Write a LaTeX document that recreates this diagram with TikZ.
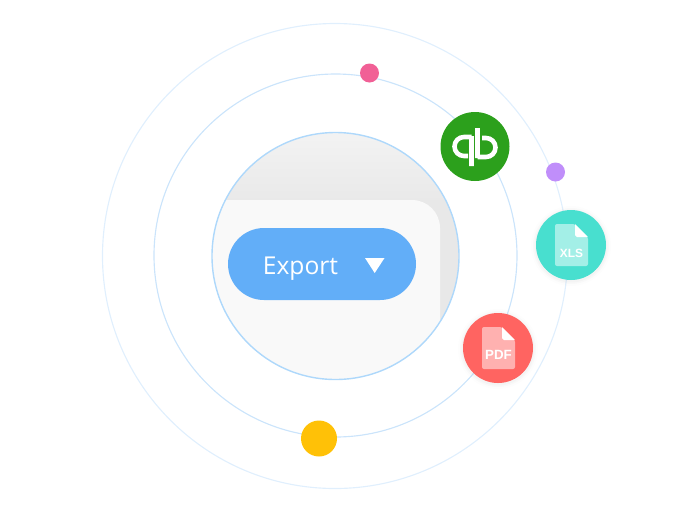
\documentclass[tikz,border=0pt]{standalone}
\usepackage{fontspec}
\setmainfont{Open Sans}
\newfontfamily\labelfont{Liberation Sans}
\definecolor{orbitout}{HTML}{E0EFFD}
\definecolor{orbitmid}{HTML}{CBE4FB}
\definecolor{lensline}{HTML}{AED8FB}
\definecolor{lenstop}{HTML}{F3F3F3}
\definecolor{lensbot}{HTML}{E7E7E7}
\definecolor{panelside}{HTML}{E8E8E8}
\definecolor{panelface}{HTML}{F9F9F9}
\definecolor{buttonblue}{HTML}{62AEF8}
\definecolor{dotpink}{HTML}{F16096}
\definecolor{dotpurple}{HTML}{C08EFA}
\definecolor{dotyellow}{HTML}{FFC107}
\definecolor{qbgreen}{HTML}{2CA01C}
\definecolor{xlsteal}{HTML}{48DFCF}
\definecolor{pdfred}{HTML}{FF6461}
\tikzset{
  ring/.style={draw=#1, line width=0.65pt},
  dot/.style={circle, inner sep=0pt, minimum size=#1*0.02cm},
  filebody/.style={fill=white, fill opacity=0.5},
  filefold/.style={fill=white},
  filetext/.style={text=white, font=\labelfont\bfseries\fontsize{6.8}{7}\selectfont, inner sep=0pt},
  logostroke/.style={draw=white, line width=2.6pt}
}
\begin{document}
\begin{tikzpicture}[x=0.02cm, y=-0.02cm]
  \useasboundingbox (0,0) rectangle (700,512);
  %orbits
  \draw [ring=orbitout] (335,256) circle (232.5);
  \draw [ring=orbitmid] (335.5,255.5) circle (181.5);
  %lens
  \begin{scope}
    \clip (335.5,256) circle (123.5);
    \shade [top color=lenstop, bottom color=lensbot] (205,130) rectangle (465,215);
    \fill [panelside] (400,200) rectangle (465,385);
    \fill [panelface, rounded corners=0.56cm] (190,200) -- (440,200) -- (440,420) -- (190,420) -- cycle;
  \end{scope}
  \draw [ring=lensline, line width=0.8pt] (335.5,256) circle (123.5);
  %button
  \fill [buttonblue, rounded corners=0.72cm] (228,228) rectangle (416,300);
  \node [text=white, inner sep=0pt, anchor=base, font=\fontsize{14}{16}\selectfont] (export) at (300.5,274) {Export};
  \fill [white] (365,258) -- (384.5,258) -- (374.7,273) -- cycle;
  %dots
  \node [dot=19, fill=dotpink] (pinkdot) at (369.5,73) {};
  \node [dot=19, fill=dotpurple] (purpledot) at (555.5,172) {};
  \node [dot=36, fill=dotyellow] (yellowdot) at (319,438.5) {};
  %quickbooks
  \node [dot=69, fill=qbgreen] (qb) at (475,146.5) {};
  \draw [logostroke] (471.5,137) -- (464,137) arc [start angle=90, end angle=270, radius=0.19cm] -- (468,156) (471.5,136) -- (471.5,166);
  \draw [logostroke] (477.5,157) -- (486,157) arc [start angle=-90, end angle=90, radius=0.19cm] -- (482,138) (477.5,128) -- (477.5,158);
  %xls
  \foreach \r/\o in {40/0.008, 38/0.014, 36.5/0.02}
    \fill [black, opacity=\o] (571,246) circle (\r);
  \node [dot=70, fill=xlsteal] (xls) at (571,245) {};
  \fill [filebody, rounded corners=0.04cm] (555,224) -- (575,224) -- (588,237) -- (588,266) -- (555,266) -- cycle;
  \fill [filefold] (575,224) -- (588,237) -- (577,237) -- (575,235) -- cycle;
  \node [filetext] (xlslabel) at (571.5,253) {XLS};
  %pdf
  \foreach \r/\o in {40/0.008, 38/0.014, 36.5/0.02}
    \fill [black, opacity=\o] (498,349) circle (\r);
  \node [dot=70, fill=pdfred] (pdf) at (498,348) {};
  \fill [filebody, rounded corners=0.04cm] (482,327) -- (502,327) -- (515,340) -- (515,369) -- (482,369) -- cycle;
  \fill [filefold] (502,327) -- (515,340) -- (504,340) -- (502,338) -- cycle;
  \node [filetext, font=\labelfont\bfseries\fontsize{7.6}{8}\selectfont] (pdflabel) at (498.5,354.5) {PDF};
\end{tikzpicture}
\end{document}
